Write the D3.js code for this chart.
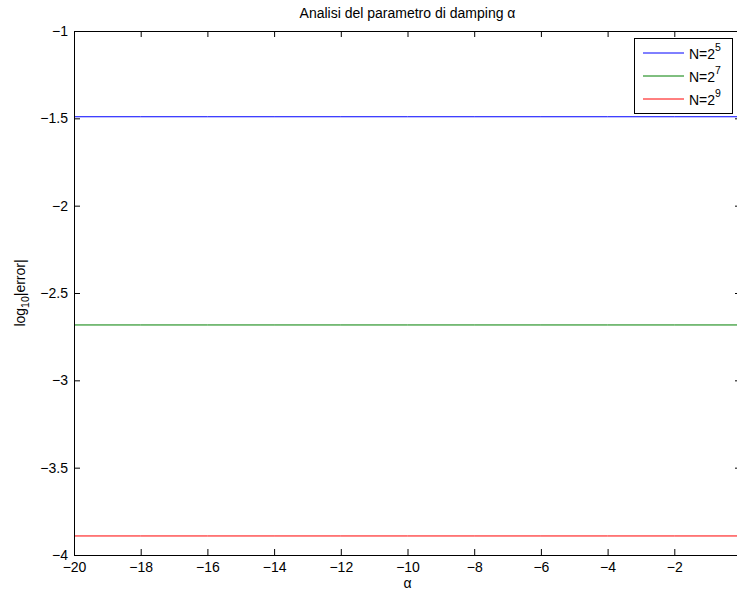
<!DOCTYPE html>
<html>
<head>
<meta charset="utf-8">
<script src="https://cdn.jsdelivr.net/npm/d3@7"></script>
<style>
  body { margin: 0; background: #fff; overflow: hidden; }
  text { font-family: "Liberation Sans", Arial, sans-serif; }
</style>
</head>
<body>
<script>
const WIDTH = 737;
const HEIGHT = 592;

// dati
const alpha = [-20, -18, -16, -14, -12, -10, -8, -6, -4, -2, 0];
const err_n5 = [-1.491, -1.491, -1.491, -1.491, -1.491, -1.491, -1.491, -1.491, -1.491, -1.491, -1.491];
const err_n7 = [-2.683, -2.683, -2.683, -2.683, -2.683, -2.683, -2.683, -2.683, -2.683, -2.683, -2.683];
const err_n9 = [-3.891, -3.891, -3.891, -3.891, -3.891, -3.891, -3.891, -3.891, -3.891, -3.891, -3.891];
const seriesNames = ['5', '7', '9'];
const seriesColors = ['#0000ff', '#007f00', '#ff0000'];
const xTicks = [-20, -18, -16, -14, -12, -10, -8, -6, -4, -2, 0];
const yTicks = [-4, -3.5, -3, -2.5, -2, -1.5, -1];

const mLeft = 74, mTop = 31, mRight = 741, mBottom = 555;

let svg = d3.select('body').append('svg')
    .attr('width', WIDTH)
    .attr('height', HEIGHT);

let x = d3.scaleLinear().domain([-20, 0]).range([mLeft, mRight]);
let y = d3.scaleLinear().domain([-4, -1]).range([mBottom, mTop]);

const fmt = d => (d < 0 ? '\u2212' : '') + Math.abs(d);

// linee dati
let line = d3.line().x((d, i) => x(alpha[i])).y(d => y(d));
[err_n5, err_n7, err_n9].forEach((s, k) => {
  svg.append('path')
     .attr('d', line(s))
     .attr('fill', 'none')
     .attr('stroke', seriesColors[k])
     .attr('stroke-width', 1);
});

// assi (stile MATLAB, tacche verso l'interno)
svg.append('g').attr('transform', `translate(0,${mBottom})`)
   .call(d3.axisBottom(x).tickValues(xTicks).tickSizeInner(-6).tickSizeOuter(0).tickPadding(7).tickFormat(fmt));
svg.append('g').attr('transform', `translate(0,${mTop})`)
   .call(d3.axisTop(x).tickValues(xTicks).tickSizeInner(-6).tickSizeOuter(0).tickFormat(''));
svg.append('g').attr('transform', `translate(${mLeft},0)`)
   .call(d3.axisLeft(y).tickValues(yTicks).tickSizeInner(-6).tickSizeOuter(0).tickPadding(6).tickFormat(fmt));
svg.append('g').attr('transform', `translate(${mRight},0)`)
   .call(d3.axisRight(y).tickValues(yTicks).tickSizeInner(-6).tickSizeOuter(0).tickFormat(''));

svg.selectAll('.domain').attr('stroke', '#000').attr('stroke-width', 1);
svg.selectAll('.tick line').attr('stroke', '#000');
svg.selectAll('.tick text').attr('font-size', 14).attr('fill', '#000')
   .attr('font-family', '"Liberation Sans", Arial, sans-serif');

// titolo ed etichette
svg.append('text')
   .attr('x', (mLeft + mRight) / 2).attr('y', 18)
   .attr('text-anchor', 'middle').attr('font-size', 14)
   .text('Analisi del parametro di damping \u03b1');

svg.append('text')
   .attr('x', (mLeft + mRight) / 2).attr('y', 588)
   .attr('text-anchor', 'middle').attr('font-size', 14)
   .text('\u03b1');

let ylab = svg.append('text')
   .attr('transform', `translate(25,${(mTop + mBottom) / 2}) rotate(-90)`)
   .attr('text-anchor', 'middle').attr('font-size', 14);
ylab.append('tspan').text('log');
ylab.append('tspan').attr('font-size', 10.5).attr('dy', 4).text('10');
ylab.append('tspan').attr('dy', -4).text('|error|');

// legenda
let lg = svg.append('g');
lg.append('rect')
  .attr('x', 634.5).attr('y', 38.5).attr('width', 98).attr('height', 75)
  .attr('fill', '#fff').attr('stroke', '#000').attr('stroke-width', 1);
seriesNames.forEach((n, k) => {
  let ly = 53 + k * 23;
  lg.append('line')
    .attr('x1', 643).attr('x2', 684).attr('y1', ly).attr('y2', ly)
    .attr('stroke', seriesColors[k]).attr('stroke-width', 1);
  let t = lg.append('text').attr('x', 689).attr('y', ly + 6).attr('font-size', 14);
  t.append('tspan').text('N=2');
  t.append('tspan').attr('font-size', 10.5).attr('dy', -8).text(n);
});
</script>
</body>
</html>
